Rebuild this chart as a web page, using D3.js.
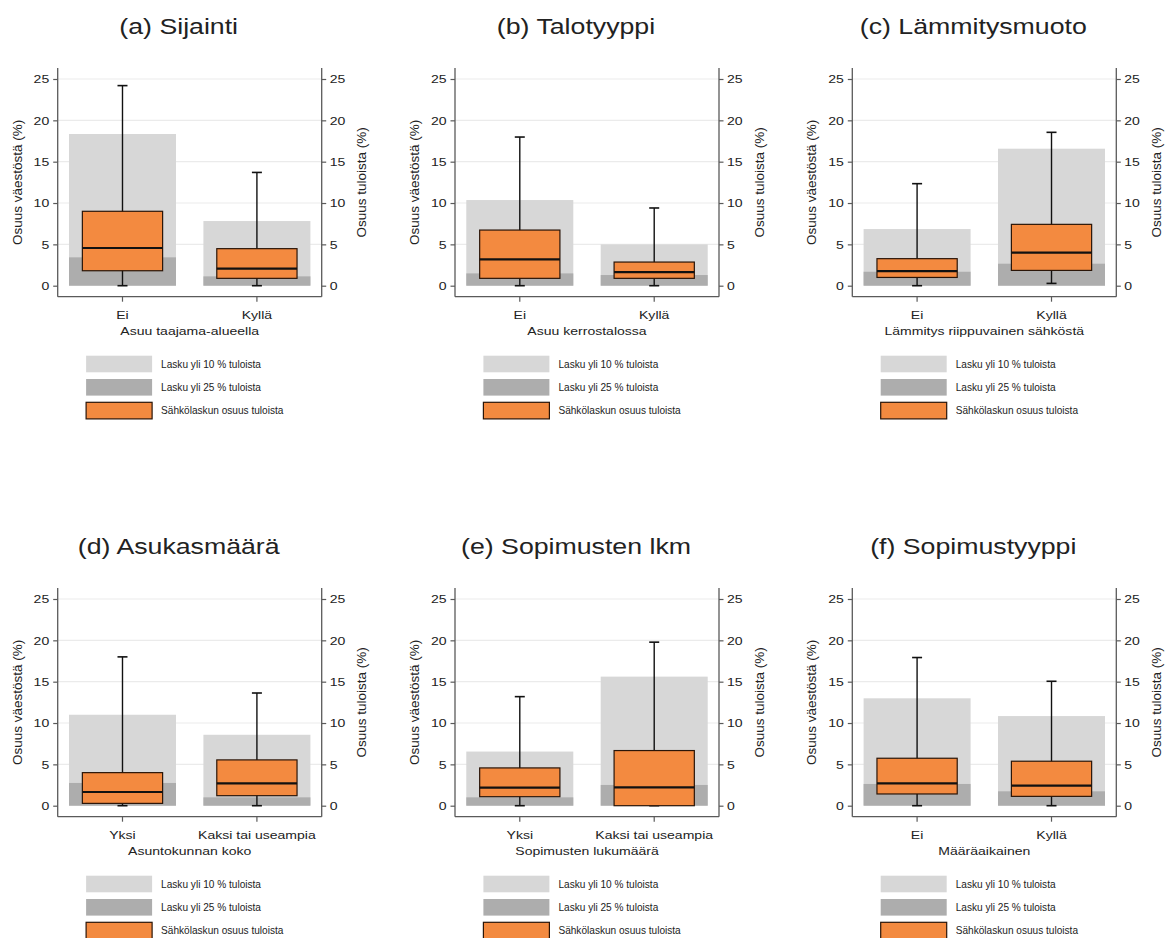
<!DOCTYPE html>
<html><head><meta charset="utf-8">
<script src="https://cdn.jsdelivr.net/npm/d3@7"></script>
<style>
html,body{margin:0;padding:0;background:#fff;}
svg{display:block;font-family:"Liberation Sans",Arial,sans-serif;}
</style></head>
<body>
<svg id="chart" width="1169" height="938"></svg>
<script>
const panelTitles = ["(a) Sijainti","(b) Talotyyppi","(c) Lämmitysmuoto","(d) Asukasmäärä","(e) Sopimusten lkm","(f) Sopimustyyppi"];
const xTitles = ["Asuu taajama-alueella","Asuu kerrostalossa","Lämmitys riippuvainen sähköstä","Asuntokunnan koko","Sopimusten lukumäärä","Määräaikainen"];
const categories = [["Ei","Kyllä"],["Ei","Kyllä"],["Ei","Kyllä"],["Yksi","Kaksi tai useampia"],["Yksi","Kaksi tai useampia"],["Ei","Kyllä"]];
const share10 = [[18.35,7.82],[10.36,5.0],[6.85,16.57],[11.0,8.58],[6.55,15.61],[12.99,10.84]];
const share25 = [[3.43,1.13],[1.49,1.29],[1.69,2.66],[2.75,1.01],[1.01,2.51],[2.63,1.74]];
const whiskLo = [[0,0],[0,0],[0,0.28],[0,0],[0,0],[0,0]];
const q1 = [[1.81,0.89],[0.89,0.89],[1.0,1.85],[0.28,1.21],[1.09,0],[1.42,1.13]];
const median = [[4.56,2.06],[3.19,1.65],[1.77,3.99],[1.66,2.71],[2.18,2.22],[2.71,2.43]];
const q3 = [[9.0,4.48],[6.73,2.86],[3.27,7.42],[4.0,5.54],[4.57,6.67],[5.74,5.38]];
const whiskHi = [[24.2,13.7],[17.98,9.4],[12.34,18.55],[18.0,13.63],[13.19,19.78],[17.92,15.05]];
const yTicks = [0,5,10,15,20,25];
const legendLabels = ["Lasku yli 10 % tuloista","Lasku yli 25 % tuloista","Sähkölaskun osuus tuloista"];
const leftTitle = "Osuus väestöstä (%)";
const rightTitle = "Osuus tuloista (%)";

const colLight = "#d7d7d7", colDark = "#adadad", colOrange = "#f38a40", colBorder = "#2a1508";
const axisCol = "#5a5a5a", gridCol = "#ebebeb", textCol = "#222";
const SX = 1.19; // horizontal stretch of the reference's text

const svg = d3.select("#chart");
const colX = [57.7, 455, 852.3];
const rowY = [0, 520];
const W = 264;

for (let p = 0; p < 6; p++) {
  const ox = colX[p % 3], oy = rowY[Math.floor(p / 3)];
  const g = svg.append("g").attr("transform", `translate(${ox},${oy})`);
  const y = d3.scaleLinear().domain([-1.33, 26.33]).range([296.7, 68]);
  const x = d3.scaleBand().domain(categories[p]).range([0, W]).paddingInner(0.204).paddingOuter(0.084);
  const bw = x.bandwidth();
  const boxW = bw * 0.75;

  // title
  g.append("text").attr("transform", `translate(${W / 2 - 11},34) scale(1.22,1)`).attr("text-anchor", "middle")
    .attr("font-size", 21.9).attr("fill", textCol).text(panelTitles[p]);

  // grid
  g.selectAll(".grid").data(yTicks.filter(t => t > 0)).enter().append("line")
    .attr("x1", 0).attr("x2", W).attr("y1", d => y(d)).attr("y2", d => y(d))
    .attr("stroke", gridCol).attr("stroke-width", 1.2);

  const idx = [0, 1];
  g.selectAll(".l").data(idx).enter().append("rect")
    .attr("x", i => x(categories[p][i])).attr("width", bw)
    .attr("y", i => y(share10[p][i])).attr("height", i => y(0) - y(share10[p][i]))
    .attr("fill", colLight);
  g.selectAll(".d").data(idx).enter().append("rect")
    .attr("x", i => x(categories[p][i])).attr("width", bw)
    .attr("y", i => y(share25[p][i])).attr("height", i => y(0) - y(share25[p][i]))
    .attr("fill", colDark);

  idx.forEach(i => {
    const cx = x(categories[p][i]) + bw / 2;
    g.append("line").attr("x1", cx).attr("x2", cx).attr("y1", y(whiskLo[p][i])).attr("y2", y(whiskHi[p][i]))
      .attr("stroke", "#111").attr("stroke-width", 1.4);
    [whiskLo[p][i], whiskHi[p][i]].forEach(v => {
      g.append("line").attr("x1", cx - 5).attr("x2", cx + 5).attr("y1", y(v)).attr("y2", y(v))
        .attr("stroke", "#111").attr("stroke-width", 1.6);
    });
    g.append("rect").attr("x", cx - boxW / 2).attr("width", boxW)
      .attr("y", y(q3[p][i])).attr("height", y(q1[p][i]) - y(q3[p][i]))
      .attr("fill", colOrange).attr("stroke", colBorder).attr("stroke-width", 1.2);
    g.append("line").attr("x1", cx - boxW / 2).attr("x2", cx + boxW / 2)
      .attr("y1", y(median[p][i])).attr("y2", y(median[p][i]))
      .attr("stroke", "#111").attr("stroke-width", 2.2);
  });

  // axes
  const la = g.append("g").call(d3.axisLeft(y).tickValues(yTicks).tickSize(4.5).tickPadding(4));
  const ra = g.append("g").attr("transform", `translate(${W},0)`).call(d3.axisRight(y).tickValues(yTicks).tickSize(4.5).tickPadding(3.5));
  const ba = g.append("g").attr("transform", `translate(0,${y(-1.33)})`).call(d3.axisBottom(x).tickSize(5).tickPadding(9));
  [la, ra, ba].forEach(a => {
    a.select(".domain").attr("stroke", axisCol).attr("stroke-width", 1.3);
    a.selectAll(".tick line").attr("stroke", axisCol).attr("stroke-width", 1.2);
    a.selectAll("text").attr("font-size", 11.8).attr("fill", textCol)
      .attr("font-family", "Liberation Sans, Arial, sans-serif")
      .each(function () {
        const t = d3.select(this);
        const xv = +t.attr("x") || 0;
        t.attr("x", xv / SX).attr("transform", `scale(${SX},1)`);
      });
  });
  la.select(".domain").attr("d", `M0,${y(26.33)}V${y(-1.33)}`);
  ra.select(".domain").attr("d", `M0,${y(26.33)}V${y(-1.33)}`);
  ba.select(".domain").attr("d", `M0,0H${W}`);

  // axis titles
  const midY = (y(26.33) + y(-1.33)) / 2;
  g.append("text").attr("transform", `translate(-40.5,${midY}) rotate(-90)`)
    .attr("text-anchor", "middle").attr("dominant-baseline", "central")
    .attr("font-size", 13.5).attr("fill", textCol).text(leftTitle);
  g.append("text").attr("transform", `translate(${W + 40},${midY}) rotate(-90)`)
    .attr("text-anchor", "middle").attr("dominant-baseline", "central")
    .attr("font-size", 13.5).attr("fill", textCol).text(rightTitle);
  g.append("text").attr("transform", `translate(${W / 2},334.5) scale(${SX},1)`).attr("text-anchor", "middle")
    .attr("font-size", 11.8).attr("fill", textCol).text(xTitles[p]);

  // legend
  const lg = g.append("g").attr("transform", "translate(28.4,355.7)");
  const fills = [colLight, colDark, colOrange];
  legendLabels.forEach((t, k) => {
    const r = lg.append("rect").attr("x", 0).attr("y", k * 23.3).attr("width", 66).attr("height", 16.6).attr("fill", fills[k]);
    if (k === 2) r.attr("stroke", colBorder).attr("stroke-width", 1.2);
    lg.append("text").attr("x", 75).attr("y", k * 23.3 + 8.5).attr("dominant-baseline", "central")
      .attr("font-size", 10.1).attr("fill", textCol).text(t);
  });
}
</script>
</body></html>
